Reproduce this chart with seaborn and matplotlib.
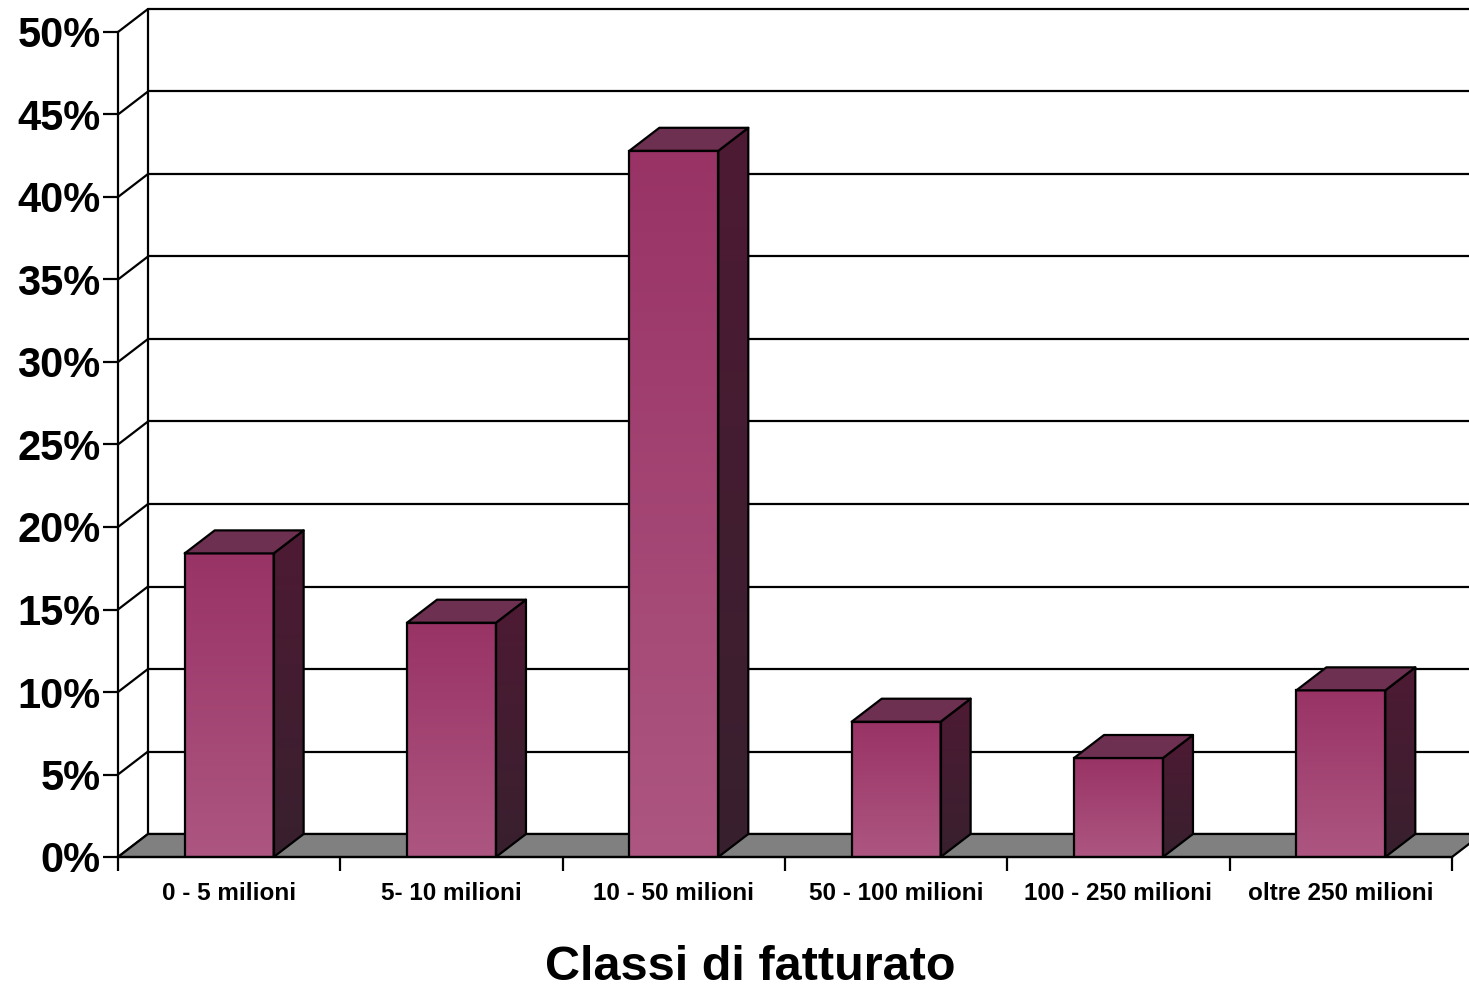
import numpy as np
import matplotlib
matplotlib.use("Agg")
import matplotlib.pyplot as plt
from matplotlib.patches import Polygon
from matplotlib.colors import LinearSegmentedColormap
import seaborn as sns

# data
categories = ["0 - 5 milioni", "5- 10 milioni", "10 - 50 milioni",
              "50 - 100 milioni", "100 - 250 milioni", "oltre 250 milioni"]
shares = [18.4, 14.2, 42.8, 8.2, 6.0, 10.1]
y_ticks = [0, 5, 10, 15, 20, 25, 30, 35, 40, 45, 50]
y_labels = [f"{v}%" for v in y_ticks]
x_title = "Classi di fatturato"

sns.set_style("ticks")
plt.rcParams["font.family"] = ["Liberation Sans", "DejaVu Sans"]
plt.rcParams["text.color"] = "black"
plt.rcParams["xtick.color"] = "black"
plt.rcParams["ytick.color"] = "black"
plt.rcParams["axes.labelcolor"] = "black"

W, H = 1469, 989
fig = plt.figure(figsize=(W / 100, H / 100), dpi=100)
ax = fig.add_axes([118 / W, 132 / H, 1334 / W, 825 / H])

# pseudo 3D depth offset in data units
DX = 30 / 222.33
DY = 23 / 16.5

# gray floor
floor = Polygon([(-0.5, 0), (5.5, 0), (5.5 + DX, DY), (-0.5 + DX, DY)],
                closed=True, fc="#808080", ec="black", lw=1.6, zorder=1, clip_on=False)
ax.add_patch(floor)

# back wall grid + connectors to the front axis
for v in y_ticks:
    ax.plot([-0.5 + DX, 5.5 + 2 * DX], [v + DY, v + DY], color="black", lw=1.6,
            zorder=0.5, clip_on=False, solid_capstyle="butt")
    ax.plot([-0.5, -0.5 + DX], [v, v + DY], color="black", lw=1.6,
            zorder=0.5, clip_on=False)
ax.plot([-0.5 + DX, -0.5 + DX], [DY, 50 + DY], color="black", lw=1.6,
        zorder=0.5, clip_on=False)

# front faces via seaborn
sns.barplot(x=categories, y=shares, width=0.4, color="#993366",
            edgecolor="black", linewidth=1.6, ax=ax, zorder=3)

front_cmap = LinearSegmentedColormap.from_list("front", ["#AD5681", "#993366"])
side_cmap = LinearSegmentedColormap.from_list("side", ["#38202E", "#4E1A34"])
grad = np.linspace(0, 1, 256).reshape(-1, 1)

for p in list(ax.patches):
    if p is floor:
        continue
    x0 = p.get_x()
    x1 = x0 + p.get_width()
    h = p.get_height()
    p.set_facecolor("none")
    im = ax.imshow(grad, cmap=front_cmap, origin="lower", aspect="auto",
                   extent=[x0, x1, 0, h], zorder=2.9)
    im.set_clip_path(p)

    side = Polygon([(x1, 0), (x1 + DX, DY), (x1 + DX, h + DY), (x1, h)],
                   closed=True, fc="none", ec="black", lw=1.6, zorder=3,
                   joinstyle="round")
    ax.add_patch(side)
    ims = ax.imshow(grad, cmap=side_cmap, origin="lower", aspect="auto",
                    extent=[x1, x1 + DX, 0, h + DY], zorder=2.9)
    ims.set_clip_path(side)

    top = Polygon([(x0, h), (x0 + DX, h + DY), (x1 + DX, h + DY), (x1, h)],
                  closed=True, fc="#6E3050", ec="black", lw=1.6, zorder=3,
                  joinstyle="round")
    ax.add_patch(top)

ax.set_xlim(-0.5, 5.5)
ax.set_ylim(0, 50)

# axes, ticks, labels
for s in ["top", "right"]:
    ax.spines[s].set_visible(False)
for s in ["left", "bottom"]:
    ax.spines[s].set_color("black")
    ax.spines[s].set_linewidth(1.6)
    ax.spines[s].set_zorder(4)

ax.set_yticks(y_ticks)
ax.set_yticklabels(y_labels, fontsize=30, fontweight="bold")
ax.tick_params(axis="y", left=True, length=11, width=1.6, color="black", pad=1.5,
               direction="out")

ax.set_xticks([i - 0.5 for i in range(7)])
ax.set_xticklabels([])
ax.set_xticks(range(6), minor=True)
ax.set_xticklabels(categories, minor=True, fontsize=17.5, fontweight="bold")
ax.tick_params(axis="x", which="major", bottom=True, length=10, width=1.6,
               color="black", direction="out")
ax.tick_params(axis="x", which="minor", bottom=True, length=0, pad=18)

ax.set_xlabel(x_title, fontsize=35, fontweight="bold")
ax.xaxis.set_label_coords((750 - 118) / 1334, -(967 - 857) / 825, transform=ax.transAxes)
ax.xaxis.label.set_verticalalignment("center")
ax.set_ylabel("")

fig.savefig("out.png", dpi=100)
